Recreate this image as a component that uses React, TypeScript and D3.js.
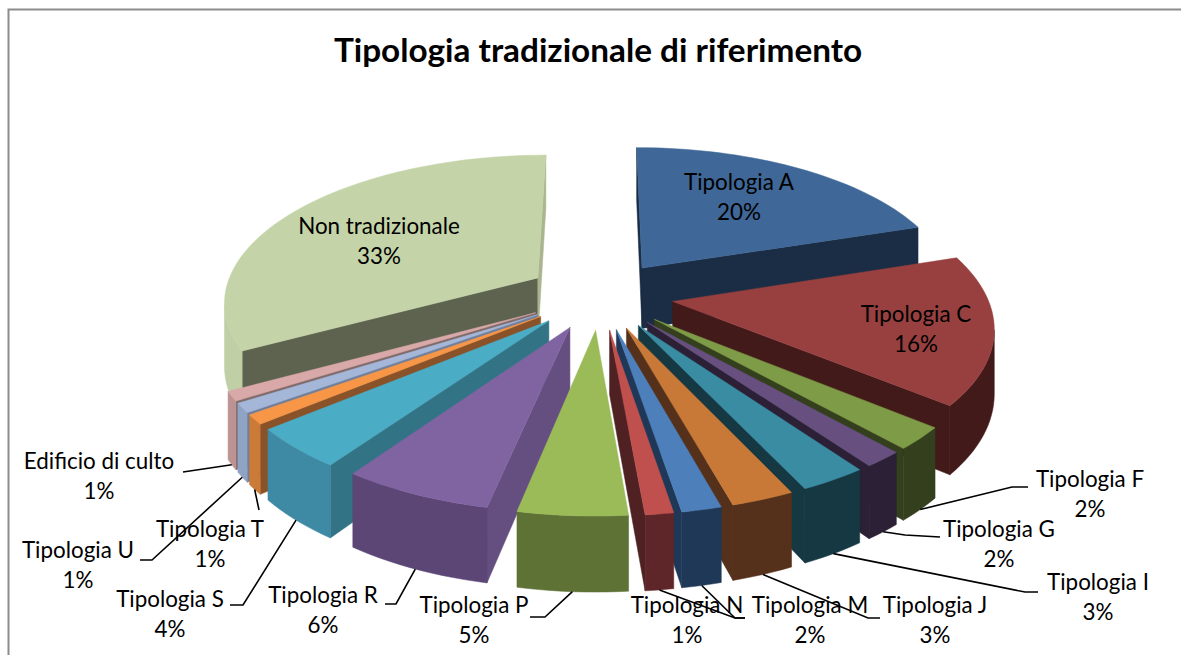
import React from "react";
import * as d3 from "d3";

const names = ["Tipologia A","Tipologia C","Tipologia F","Tipologia G","Tipologia I","Tipologia J","Tipologia M","Tipologia N","Tipologia P","Tipologia R","Tipologia S","Tipologia T","Tipologia U","Edificio di culto","Non tradizionale"];
const values = [20,16,2.4,1.7,2.9,2.7,1.7,1.2,4.65,6.45,4.3,1,1,1,33];
const topColors = ["#3F6797","#984040","#7E9B47","#67507F","#3A8CA3","#C87937","#4D7FBA","#C0504D","#9BBB59","#8064A2","#4BACC6","#F79646","#A5B7D9","#D9A8A8","#C4D4A8"];
const outerColors = ["#1A2D45","#421A19","#333F1D","#2B2036","#163843","#55301A","#1F3858","#5E2628","#5F7236","#5B4675","#3E8AA4","#CB7A37","#8FA3C4","#BC9292","#C0CFA5"];
const startColors = ["#1A2D45","#421A19","#333F1D","#2B2036","#163843","#55301A","#1F3858","#4F2122","#5F7236","#654F80","#337386","#8A5229","#6F7F9C","#7F6B6B","#5E6350"];
const endColors = ["#1A2D45","#421A19","#333F1D","#2B2036","#163843","#55301A","#1F3858","#4F2122","#5F7236","#654F80","#337386","#8A5229","#6F7F9C","#7F6B6B","#AAB58F"];
// label layout: centre x, first-line y, leader end, leader elbow (null = label sits on the slice)
const labelX = [739,916,1090,999,1098,935,810,687,474,323,170,210,78,99,379];
const labelY = [183,315,480,530,583,606,606,606,606,596,600,530,551,462,227];
const leaderEnd: (number[] | null)[] = [null,null,[1028,487],[940,537],[1038,592],[880,618],[745,618],[745,618],[530,617],[385,604],[230,605],[259,510],[140,560],[183,472],null];
const leaderElbow: (number[] | null)[] = [null,null,[1012,487],[905,535],[1025,592],[868,618],[735,618],[735,618],[545,617],[396,604],[243,605],null,[152,560],null,null];

const cx = 600, cy = 295, R = 314, Rt = 146, persp = 0.15, H = 62, explode = 0.234;

type P = [number, number];

function project(x: number, y: number, z: number): P {
  const w = 1 + persp * y;
  return [cx + (R * x) / w, cy - (Rt * y) / w + (H * z) / w];
}
const area = (q: P[]) => d3.polygonArea(q);
const poly = d3.line();

export default function App() {
  const arcs = d3.pie<number>().sort(null)(values);
  const slices = arcs.map((a, i) => {
    const mid = (a.startAngle + a.endAngle) / 2;
    const ox = explode * Math.sin(mid), oy = explode * Math.cos(mid);
    const pt = (ang: number, r: number, z: number) => project(ox + r * Math.sin(ang), oy + r * Math.cos(ang), z);
    const angs = d3.range(0, 1.0001, 1 / Math.max(6, Math.ceil(values[i] * 2))).map((t) => a.startAngle + t * (a.endAngle - a.startAngle));
    return { i, mid, oy, pt, angs, a };
  });
  const order = slices.slice().sort((p, q) => q.oy - p.oy);

  return (
    <svg width={1181} height={655} style={{ position: "absolute", left: 0, top: 0, background: "#fff" }} fontFamily="Lato, 'Open Sans', sans-serif">
      <path d="M8.5,655 V9.5 H1181" fill="none" stroke="#8c8c8c" strokeWidth={2} />
      <text x={598} y={62} textAnchor="middle" fontSize={33.3} fontWeight={700} fill="#000">Tipologia tradizionale di riferimento</text>
      {order.map((s) => {
        const { i, pt, angs, a } = s;
        const top: P[] = [pt(0, 0, 0), ...angs.map((g) => pt(g, 1, 0))];
        const faces: React.ReactNode[] = [];
        const startQuad: P[] = [pt(0, 0, 0), pt(a.startAngle, 1, 0), pt(a.startAngle, 1, 1), pt(0, 0, 1)];
        const endQuad: P[] = [pt(a.endAngle, 1, 0), pt(0, 0, 0), pt(0, 0, 1), pt(a.endAngle, 1, 1)];
        if (area(startQuad) > 0) faces.push(<path key="s" d={poly(startQuad) + "Z"} fill={startColors[i]} stroke={startColors[i]} strokeWidth={0.5} />);
        if (area(endQuad) > 0) faces.push(<path key="e" d={poly(endQuad) + "Z"} fill={endColors[i]} stroke={endColors[i]} strokeWidth={0.5} />);
        // contiguous camera-facing arc segments merged into one wall
        let run: number[] = [];
        const flush = () => {
          if (run.length > 1) {
            const q: P[] = [...run.map((g) => pt(g, 1, 0)), ...run.slice().reverse().map((g) => pt(g, 1, 1))];
            faces.push(<path key={"o" + run[0]} d={poly(q) + "Z"} fill={outerColors[i]} stroke={outerColors[i]} strokeWidth={0.5} />);
          }
          run = [];
        };
        for (let k = 0; k < angs.length - 1; k++) {
          const q: P[] = [pt(angs[k], 1, 0), pt(angs[k + 1], 1, 0), pt(angs[k + 1], 1, 1), pt(angs[k], 1, 1)];
          if (area(q) > 0) {
            if (!run.length) run.push(angs[k]);
            run.push(angs[k + 1]);
          } else flush();
        }
        flush();
        return (
          <g key={i}>
            {faces}
            <path d={poly(top) + "Z"} fill={topColors[i]} stroke={topColors[i]} strokeWidth={0.5} />
          </g>
        );
      })}
      {slices.map((s) => {
        const { i, pt, mid } = s;
        const end = leaderEnd[i];
        if (!end) return null;
        const pts: P[] = [end as P];
        if (leaderElbow[i]) pts.push(leaderElbow[i] as P);
        pts.push(pt(mid, 1, 1));
        return <path key={i} d={poly(pts) as string} fill="none" stroke="#000" strokeWidth={1.6} />;
      })}
      {names.map((n, i) => (
        <text key={n} textAnchor="middle" fontSize={22.4} fill="#000">
          <tspan x={labelX[i]} y={labelY[i] + 7}>{n}</tspan>
          <tspan x={labelX[i]} y={labelY[i] + 37}>{Math.round(values[i])}%</tspan>
        </text>
      ))}
    </svg>
  );
}
